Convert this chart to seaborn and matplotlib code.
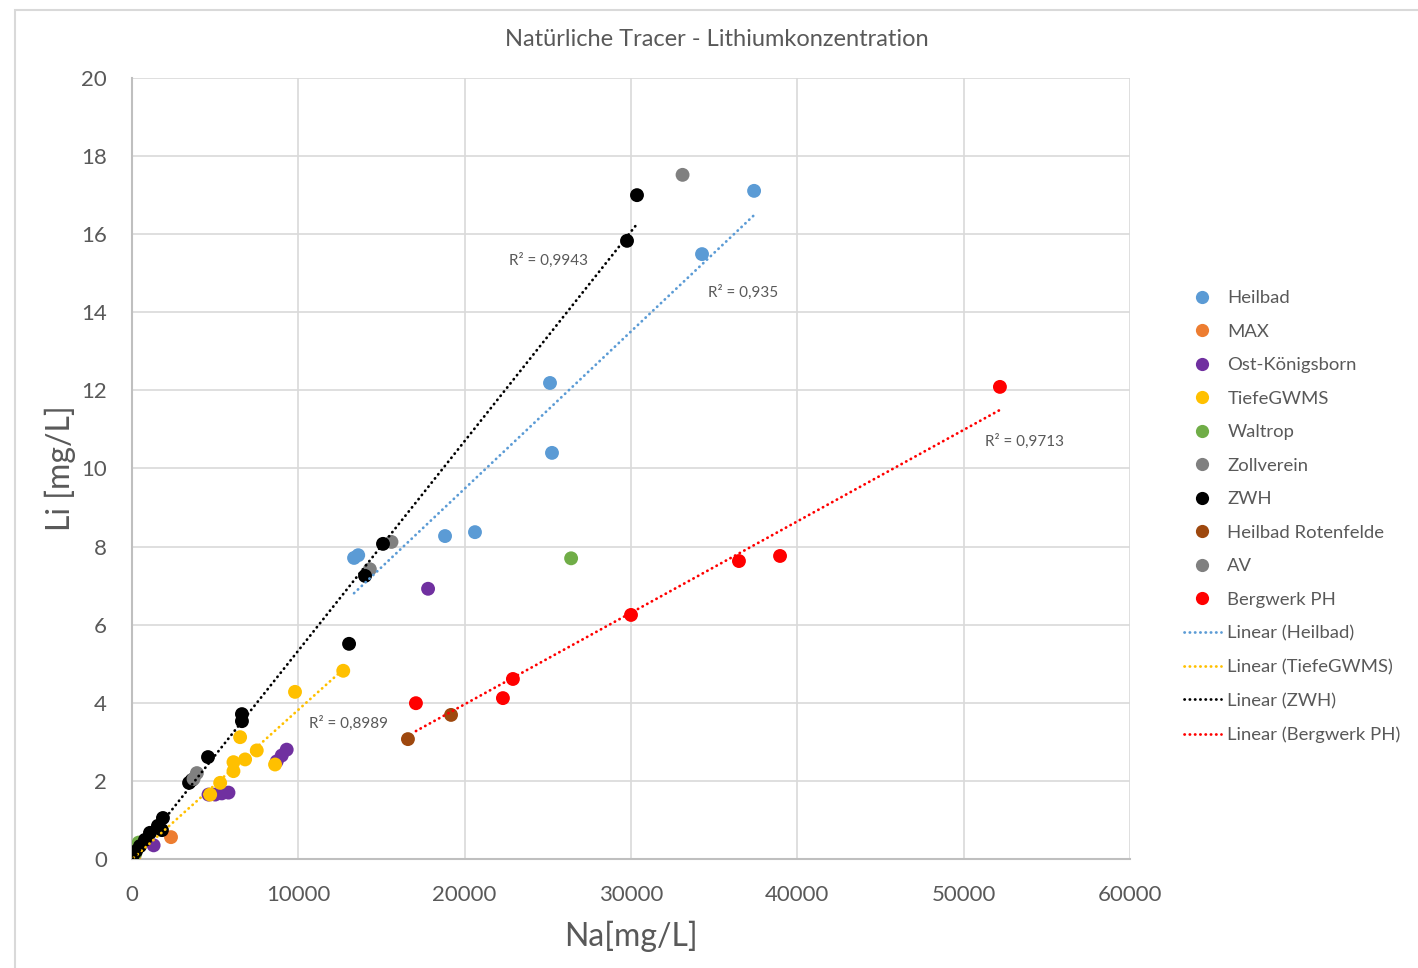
import numpy as np
import pandas as pd
import matplotlib
matplotlib.use("Agg")
import matplotlib.pyplot as plt
from matplotlib.lines import Line2D
from matplotlib.patches import Rectangle
import seaborn as sns

# ---------------- data ----------------
heilbad_na = [13350, 13600, 18820, 20620, 25130, 25250, 34270, 37400]
heilbad_li = [7.71, 7.78, 8.27, 8.37, 12.19, 10.40, 15.49, 17.11]

max_na = [2345, 150]
max_li = [0.56, 0.08]

ostk_na = [1300, 4600, 5000, 5400, 5800, 8700, 9000, 9300, 17800]
ostk_li = [0.35, 1.65, 1.65, 1.68, 1.70, 2.50, 2.65, 2.80, 6.92]

tiefe_na = [100, 4700, 5300, 6100, 6100, 6800, 7500, 6500, 8600, 9800, 12700]
tiefe_li = [0.02, 1.65, 1.95, 2.25, 2.48, 2.55, 2.78, 3.12, 2.42, 4.28, 4.82]

waltrop_na = [200, 400, 26400]
waltrop_li = [0.15, 0.42, 7.70]

zoll_na = [33100, 15600, 14300]
zoll_li = [17.52, 8.12, 7.42]

zwh_na = [60, 240, 480, 780, 1080, 1560, 1800, 1860, 3430, 3600, 4570,
          6610, 6610, 13050, 14010, 15090, 29760, 30360]
zwh_li = [0.10, 0.20, 0.33, 0.49, 0.67, 0.85, 0.74, 1.05, 1.95, 2.02, 2.61,
          3.53, 3.71, 5.51, 7.25, 8.07, 15.83, 17.00]

rotenfelde_na = [16590, 19180]
rotenfelde_li = [3.07, 3.69]

av_na = [3900, 3700]
av_li = [2.20, 2.05]

bergwerk_na = [17070, 22300, 22900, 30000, 36490, 38960, 52180]
bergwerk_li = [3.99, 4.12, 4.61, 6.25, 7.63, 7.76, 12.09]

series_names = ["Heilbad", "MAX", "Ost-Königsborn", "TiefeGWMS", "Waltrop",
                "Zollverein", "ZWH", "Heilbad Rotenfelde", "AV", "Bergwerk PH"]
series_na = [heilbad_na, max_na, ostk_na, tiefe_na, waltrop_na, zoll_na,
             zwh_na, rotenfelde_na, av_na, bergwerk_na]
series_li = [heilbad_li, max_li, ostk_li, tiefe_li, waltrop_li, zoll_li,
             zwh_li, rotenfelde_li, av_li, bergwerk_li]
series_colors = ["#5B9BD5", "#ED7D31", "#7030A0", "#FFC000", "#70AD47",
                 "#808080", "#000000", "#9E480E", "#808080", "#FF0000"]

trend_series = ["Heilbad", "TiefeGWMS", "ZWH", "Bergwerk PH"]
trend_colors = ["#5B9BD5", "#FFC000", "#000000", "#FF0000"]
r2_labels = ["R² = 0,935", "R² = 0,8989", "R² = 0,9943", "R² = 0,9713"]
r2_pos_x = [36730, 12990, 25070, 53630]
r2_pos_y = [14.52, 3.48, 15.34, 10.70]

x_ticks = [0, 10000, 20000, 30000, 40000, 50000, 60000]
y_ticks = [0, 2, 4, 6, 8, 10, 12, 14, 16, 18, 20]

title = "Natürliche Tracer - Lithiumkonzentration"
xlabel = "Na[mg/L]"
ylabel = "Li [mg/L]"

# ---------------- build frame ----------------
rows = []
for name, xs, ys in zip(series_names, series_na, series_li):
    for x, y in zip(xs, ys):
        rows.append({"Na": x, "Li": y, "Serie": name})
df = pd.DataFrame(rows)

sns.set_theme(style="white")
plt.rcParams["font.family"] = ["Lato", "DejaVu Sans"]
txt = "#595959"
dots = (0, (0.1, 1.8))

fig = plt.figure(figsize=(14.18, 9.68), dpi=100)
ax = fig.add_axes([132 / 1418, 1 - 859 / 968, (1130 - 132) / 1418, (859 - 78) / 968])

# outer chart frame
fig.patches.append(Rectangle((15 / 1418, -0.01), 1.0, 1 - 10 / 968 + 0.01,
                             transform=fig.transFigure, fill=False,
                             edgecolor="#d9d9d9", lw=1.5, zorder=0))

palette = dict(zip(series_names, series_colors))
sns.scatterplot(data=df, x="Na", y="Li", hue="Serie", hue_order=series_names,
                palette=palette, s=100, linewidth=0, ax=ax, legend=False, zorder=3)

for name, col in zip(trend_series, trend_colors):
    sub = df[df["Serie"] == name]
    sns.regplot(data=sub, x="Na", y="Li", scatter=False, ci=None, truncate=True,
                ax=ax, line_kws=dict(color=col, lw=2.0, ls=dots,
                                     dash_capstyle="round", zorder=4))

for t, x, y in zip(r2_labels, r2_pos_x, r2_pos_y):
    ax.text(x, y, t, fontsize=11, color=txt, ha="center", va="center", zorder=5)

ax.set_xlim(0, 60000)
ax.set_ylim(0, 20)
ax.set_xticks(x_ticks)
ax.set_yticks(y_ticks)
ax.set_xticklabels([str(v) for v in x_ticks])
ax.set_yticklabels([str(v) for v in y_ticks])
ax.tick_params(axis="x", length=0, pad=19, labelsize=16, labelcolor=txt)
ax.tick_params(axis="y", length=0, pad=18, labelsize=16, labelcolor=txt)
ax.grid(True, color="#d9d9d9", lw=1.2)
ax.set_axisbelow(True)
for side in ["top", "right"]:
    ax.spines[side].set_visible(False)
for side in ["left", "bottom"]:
    ax.spines[side].set_color("#bfbfbf")
    ax.spines[side].set_linewidth(1.5)

ax.set_xlabel(xlabel, fontsize=23, color=txt, labelpad=11)
ax.set_ylabel(ylabel, fontsize=23, color=txt, labelpad=4)
fig.text(717 / 1418, 1 - 39 / 968, title, fontsize=17, color=txt,
         ha="center", va="center")

handles = []
for name, col in zip(series_names, series_colors):
    handles.append(Line2D([], [], ls="none", marker="o", markersize=9.5,
                          markerfacecolor=col, markeredgewidth=0, label=name))
for name, col in zip(trend_series, trend_colors):
    handles.append(Line2D([], [], color=col, lw=2.0, ls=dots,
                          dash_capstyle="round", label=f"Linear ({name})"))
fig.legend(handles=handles, loc="upper left",
           bbox_to_anchor=(1184 / 1418, 1 - 290 / 968), frameon=False,
           fontsize=13.3, labelcolor=txt, handlelength=2.0, handletextpad=0.35,
           labelspacing=0.95, borderpad=0, borderaxespad=0)

fig.savefig("out.png", dpi=100, facecolor="white")
